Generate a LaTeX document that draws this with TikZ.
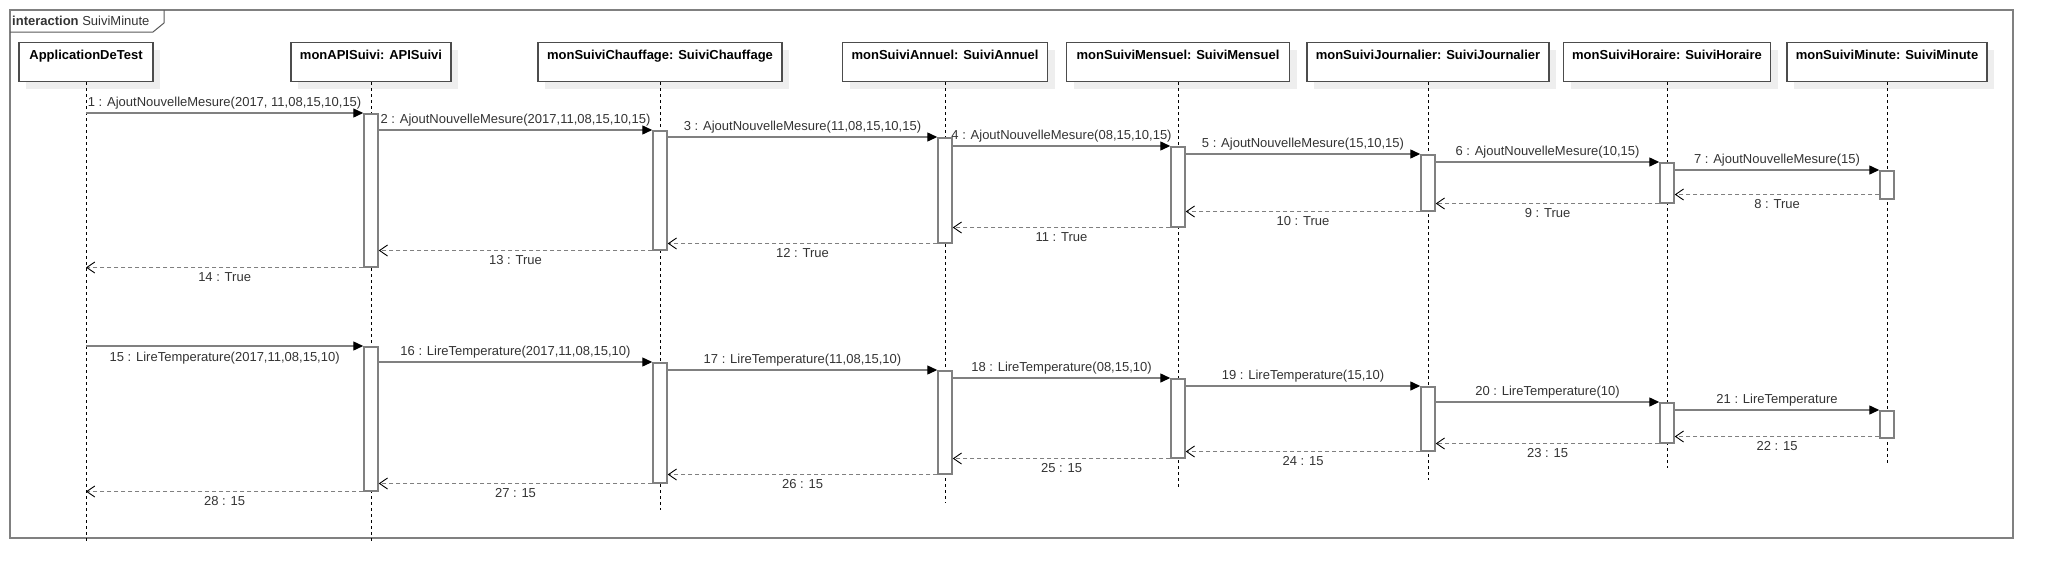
\documentclass[tikz,border=0pt]{standalone}
\usepackage{fontspec}
\setmainfont{Liberation Sans}
\usetikzlibrary{arrows.meta,shadows}
\definecolor{linegray}{HTML}{808080}
\definecolor{txtgray}{HTML}{333333}
\definecolor{shadowgray}{HTML}{EEEEEE}

\begin{document}
\begin{tikzpicture}[x=1pt,y=-1pt,font=\fontsize{13}{15}\selectfont]
    \tikzset{
        lifehead/.style={draw=black!70,line width=1.3pt,fill=white,inner sep=0pt,anchor=north,
            text height=16.7pt,text depth=22.3pt,font=\fontsize{13}{15}\selectfont\bfseries,
            drop shadow={shadow xshift=7pt,shadow yshift=-7pt,fill=shadowgray,opacity=1}},
        lifeline/.style={black,dash pattern=on 3pt off 3pt,line width=0.9pt},
        actbox/.style={draw=linegray,line width=1.5pt,fill=white,minimum width=14pt,inner sep=0pt,anchor=north},
        msg/.style={linegray,line width=1.4pt,-{Triangle[length=10pt,width=9pt,color=black,fill=black]}},
        ret/.style={linegray,line width=1.4pt,dash pattern=on 4pt off 3pt,
            -{Straight Barb[length=8pt,width=11pt,color=black,line width=0.9pt]}},
        lbl/.style={text=txtgray,inner sep=3pt}
    }
    \useasboundingbox (0,0) rectangle (2053,584);

    % cadre de l'interaction
    \draw[linegray,line width=2pt] (10,10) rectangle (2013,538);
    \draw[black!65,line width=1pt] (164,10) -- (164,23) -- (153,32) -- (10,32);
    \node[anchor=base west,inner sep=0pt,text=txtgray] (titre) at (12,25.7) {\textbf{interaction} SuiviMinute};

    % objets
    \node[lifehead,minimum width=134pt] (app) at (86,42) {ApplicationDeTest};
    \node[lifehead,minimum width=160pt] (api) at (371,42) {monAPISuivi: APISuivi};
    \node[lifehead,minimum width=244pt] (chauffage) at (660,42) {monSuiviChauffage: SuiviChauffage};
    \node[lifehead,minimum width=205pt] (annuel) at (945,42) {monSuiviAnnuel: SuiviAnnuel};
    \node[lifehead,minimum width=223pt] (mensuel) at (1178,42) {monSuiviMensuel: SuiviMensuel};
    \node[lifehead,minimum width=242pt] (journalier) at (1428,42) {monSuiviJournalier: SuiviJournalier};
    \node[lifehead,minimum width=207pt] (horaire) at (1667,42) {monSuiviHoraire: SuiviHoraire};
    \node[lifehead,minimum width=200pt] (minute) at (1887,42) {monSuiviMinute: SuiviMinute};

    % lignes de vie
    \foreach \n/\e in {app/541,api/541,chauffage/510,annuel/503,mensuel/487,journalier/480,horaire/468,minute/463} {
        \coordinate (\n E) at (\n.south |- 0,\e);
        \draw[lifeline] (\n.south) -- (\n E);
    }

    % activations : AjoutNouvelleMesure
    \node[actbox,minimum height=153pt] (a2) at (api |- 0,113) {};
    \node[actbox,minimum height=119pt] (a3) at (chauffage |- 0,130) {};
    \node[actbox,minimum height=105pt] (a4) at (annuel |- 0,137) {};
    \node[actbox,minimum height=80pt] (a5) at (mensuel |- 0,146) {};
    \node[actbox,minimum height=56pt] (a6) at (journalier |- 0,154) {};
    \node[actbox,minimum height=40pt] (a7) at (horaire |- 0,162) {};
    \node[actbox,minimum height=28pt] (a8) at (minute |- 0,170) {};

    % activations : LireTemperature
    \node[actbox,minimum height=144pt] (b2) at (api |- 0,346) {};
    \node[actbox,minimum height=120pt] (b3) at (chauffage |- 0,362) {};
    \node[actbox,minimum height=103pt] (b4) at (annuel |- 0,370) {};
    \node[actbox,minimum height=79pt] (b5) at (mensuel |- 0,378) {};
    \node[actbox,minimum height=64pt] (b6) at (journalier |- 0,386) {};
    \node[actbox,minimum height=40pt] (b7) at (horaire |- 0,402) {};
    \node[actbox,minimum height=27pt] (b8) at (minute |- 0,410) {};

    % appels AjoutNouvelleMesure
    \draw[msg] (app |- a2.north) -- node[lbl,above] {1 : AjoutNouvelleMesure(2017, 11,08,15,10,15)} (a2.north west);
    \draw[msg] (a2.east |- a3.north) -- node[lbl,above] {2 : AjoutNouvelleMesure(2017,11,08,15,10,15)} (a3.north west);
    \draw[msg] (a3.east |- a4.north) -- node[lbl,above] {3 : AjoutNouvelleMesure(11,08,15,10,15)} (a4.north west);
    \draw[msg] (a4.east |- a5.north) -- node[lbl,above] {4 : AjoutNouvelleMesure(08,15,10,15)} (a5.north west);
    \draw[msg] (a5.east |- a6.north) -- node[lbl,above] {5 : AjoutNouvelleMesure(15,10,15)} (a6.north west);
    \draw[msg] (a6.east |- a7.north) -- node[lbl,above] {6 : AjoutNouvelleMesure(10,15)} (a7.north west);
    \draw[msg] (a7.east |- a8.north) -- node[lbl,above] {7 : AjoutNouvelleMesure(15)} (a8.north west);

    % retours True
    \coordinate (r8) at ([yshift=5pt]a8.south west);
    \draw[ret] (r8) -- node[lbl,below=1.5pt] {8 : True} (a7.east |- r8);
    \draw[ret] (a7.south west) -- node[lbl,below=1.5pt] {9 : True} (a6.east |- a7.south);
    \draw[ret] (a6.south west) -- node[lbl,below=1.5pt] {10 : True} (a5.east |- a6.south);
    \draw[ret] (a5.south west) -- node[lbl,below=1.5pt] {11 : True} (a4.east |- a5.south);
    \draw[ret] (a4.south west) -- node[lbl,below=1.5pt] {12 : True} (a3.east |- a4.south);
    \draw[ret] (a3.south west) -- node[lbl,below=1.5pt] {13 : True} (a2.east |- a3.south);
    \draw[ret] (a2.south west) -- node[lbl,below=1.5pt] {14 : True} (app |- a2.south);

    % appels LireTemperature
    \draw[msg] (app |- b2.north) -- node[lbl,below=2pt] {15 : LireTemperature(2017,11,08,15,10)} (b2.north west);
    \draw[msg] (b2.east |- b3.north) -- node[lbl,above] {16 : LireTemperature(2017,11,08,15,10)} (b3.north west);
    \draw[msg] (b3.east |- b4.north) -- node[lbl,above] {17 : LireTemperature(11,08,15,10)} (b4.north west);
    \draw[msg] (b4.east |- b5.north) -- node[lbl,above] {18 : LireTemperature(08,15,10)} (b5.north west);
    \draw[msg] (b5.east |- b6.north) -- node[lbl,above] {19 : LireTemperature(15,10)} (b6.north west);
    \draw[msg] (b6.east |- b7.north) -- node[lbl,above] {20 : LireTemperature(10)} (b7.north west);
    \draw[msg] (b7.east |- b8.north) -- node[lbl,above] {21 : LireTemperature} (b8.north west);

    % retours 15
    \coordinate (r22) at ([yshift=2pt]b8.south west);
    \draw[ret] (r22) -- node[lbl,below=1.5pt] {22 : 15} (b7.east |- r22);
    \draw[ret] (b7.south west) -- node[lbl,below=1.5pt] {23 : 15} (b6.east |- b7.south);
    \draw[ret] (b6.south west) -- node[lbl,below=1.5pt] {24 : 15} (b5.east |- b6.south);
    \draw[ret] (b5.south west) -- node[lbl,below=1.5pt] {25 : 15} (b4.east |- b5.south);
    \draw[ret] (b4.south west) -- node[lbl,below=1.5pt] {26 : 15} (b3.east |- b4.south);
    \draw[ret] (b3.south west) -- node[lbl,below=1.5pt] {27 : 15} (b2.east |- b3.south);
    \draw[ret] (b2.south west) -- node[lbl,below=1.5pt] {28 : 15} (app |- b2.south);
\end{tikzpicture}
\end{document}
